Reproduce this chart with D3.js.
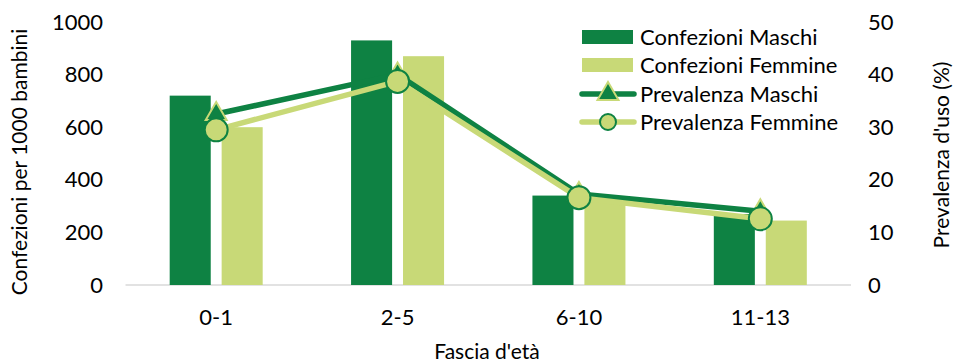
<!DOCTYPE html>
<html>
<head>
<meta charset="utf-8">
<script src="https://cdn.jsdelivr.net/npm/d3@7"></script>
<style>
  html, body { margin: 0; padding: 0; background: #fff; }
  svg { display: block; font-family: Lato, "Open Sans", sans-serif; }
</style>
</head>
<body>
<svg id="chart" width="958" height="362"></svg>
<script>
// Age groups and series
const categories = ["0-1", "2-5", "6-10", "11-13"];
const confMaschi = [720, 930, 340, 270];
const confFemmine = [600, 870, 335, 245];
const prevMaschi = [32.5, 40.0, 17.3, 14.0];
const prevFemmine = [29.5, 38.7, 16.6, 12.6];
const leftTicks = [0, 200, 400, 600, 800, 1000];
const rightTicks = [0, 10, 20, 30, 40, 50];
const seriesNames = ["Confezioni Maschi", "Confezioni Femmine", "Prevalenza Maschi", "Prevalenza Femmine"];

const dark = "#0e8243";
const light = "#c8d977";
const fontSize = 22;
const titleSize = 21;

const svg = d3.select("#chart");

const x = d3.scaleBand().domain(categories).range([125.5, 851]).paddingInner(0).paddingOuter(0);
const bw = x.bandwidth();
const x1 = d3.scaleBand().domain(["M", "F"])
  .range([bw / 2 - 46.5, bw / 2 + 46.5]).paddingInner(0.21);
const yL = d3.scaleLinear().domain([0, 1000]).range([285, 22]);
const yR = d3.scaleLinear().domain([0, 50]).range([285, 22]);

// baseline
svg.append("line")
  .attr("x1", x.range()[0]).attr("x2", x.range()[1])
  .attr("y1", yL(0)).attr("y2", yL(0))
  .attr("stroke", "#d9d9d9").attr("stroke-width", 1.5);

// bars
const bars = svg.append("g");
[["M", confMaschi, dark], ["F", confFemmine, light]].forEach(([key, vals, col]) => {
  bars.selectAll(null).data(categories).join("rect")
    .attr("x", d => x(d) + x1(key))
    .attr("width", x1.bandwidth())
    .attr("y", (d, i) => yL(vals[i]))
    .attr("height", (d, i) => yL(0) - yL(vals[i]))
    .attr("fill", col);
});

// left axis
const axL = svg.append("g").attr("transform", "translate(103,0)")
  .call(d3.axisLeft(yL).tickValues(leftTicks).tickFormat(d3.format("d")).tickSize(0).tickPadding(0));
axL.select(".domain").remove();
axL.selectAll("text").attr("font-size", fontSize).attr("font-family", "Lato, sans-serif").attr("fill", "#000");

// right axis
const axR = svg.append("g").attr("transform", "translate(868,0)")
  .call(d3.axisRight(yR).tickValues(rightTicks).tickSize(0).tickPadding(0));
axR.select(".domain").remove();
axR.selectAll("text").attr("font-size", fontSize).attr("font-family", "Lato, sans-serif").attr("fill", "#000");

// bottom axis
const axB = svg.append("g").attr("transform", "translate(0,285)")
  .call(d3.axisBottom(x).tickSize(0).tickPadding(24));
axB.select(".domain").remove();
axB.selectAll("text").attr("font-size", fontSize).attr("font-family", "Lato, sans-serif").attr("fill", "#000");

// axis titles
svg.append("text").attr("transform", "translate(27,162) rotate(-90)")
  .attr("text-anchor", "middle").attr("font-size", titleSize).text("Confezioni per 1000 bambini");
svg.append("text").attr("transform", "translate(949,155) rotate(-90)")
  .attr("text-anchor", "middle").attr("font-size", titleSize).text("Prevalenza d'uso (%)");
svg.append("text").attr("x", 487).attr("y", 359)
  .attr("text-anchor", "middle").attr("font-size", titleSize).text("Fascia d'età");

// lines
const cx = d => x(d) + bw / 2;
const triangle = d3.symbol().type(d3.symbolTriangle).size(190);

function drawLine(vals, lineCol, markerFn) {
  const g = svg.append("g");
  g.append("path")
    .datum(categories)
    .attr("fill", "none").attr("stroke", lineCol).attr("stroke-width", 5.5)
    .attr("stroke-linecap", "round").attr("stroke-linejoin", "round")
    .attr("d", d3.line().x(cx).y((d, i) => yR(vals[i])));
  markerFn(g, vals);
}

function triMarkers(g, vals) {
  g.selectAll(null).data(categories).join("path")
    .attr("transform", (d, i) => `translate(${cx(d)},${yR(vals[i])})`)
    .attr("d", triangle)
    .attr("fill", dark).attr("stroke", light).attr("stroke-width", 2);
}
function circMarkers(g, vals) {
  g.selectAll(null).data(categories).join("circle")
    .attr("cx", cx).attr("cy", (d, i) => yR(vals[i])).attr("r", 11.5)
    .attr("fill", light).attr("stroke", dark).attr("stroke-width", 2);
}

drawLine(prevMaschi, dark, triMarkers);
drawLine(prevFemmine, light, circMarkers);

// legend
const lg = svg.append("g");
const rowY = [37, 65, 94, 122];
lg.append("rect").attr("x", 582).attr("y", rowY[0] - 7).attr("width", 51).attr("height", 14).attr("fill", dark);
lg.append("rect").attr("x", 582).attr("y", rowY[1] - 7).attr("width", 51).attr("height", 14).attr("fill", light);
lg.append("line").attr("x1", 582).attr("x2", 634).attr("y1", rowY[2]).attr("y2", rowY[2])
  .attr("stroke", dark).attr("stroke-width", 5.5).attr("stroke-linecap", "round");
lg.append("path").attr("transform", `translate(608,${rowY[2]})`).attr("d", triangle)
  .attr("fill", dark).attr("stroke", light).attr("stroke-width", 2);
lg.append("line").attr("x1", 582).attr("x2", 634).attr("y1", rowY[3]).attr("y2", rowY[3])
  .attr("stroke", light).attr("stroke-width", 5.5).attr("stroke-linecap", "round");
lg.append("circle").attr("cx", 608).attr("cy", rowY[3]).attr("r", 8)
  .attr("fill", light).attr("stroke", dark).attr("stroke-width", 2);
lg.selectAll("text.lab").data(seriesNames).join("text")
  .attr("class", "lab")
  .attr("x", 640).attr("y", (d, i) => rowY[i]).attr("dy", "0.35em")
  .attr("font-size", fontSize).attr("fill", "#000")
  .text(d => d);
</script>
</body>
</html>
